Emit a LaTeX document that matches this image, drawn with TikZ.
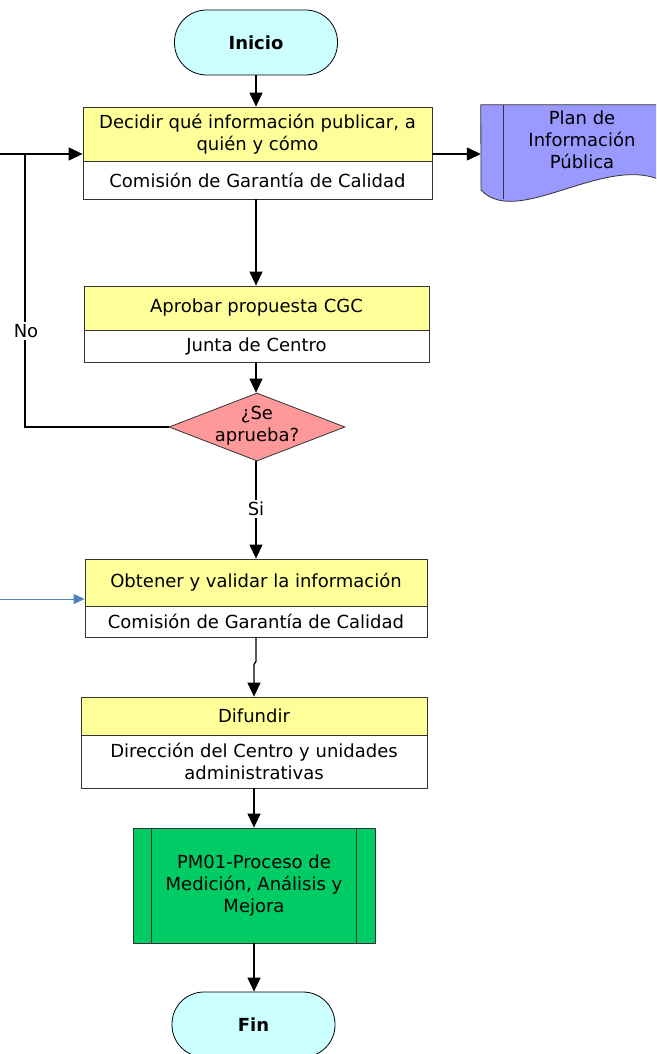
\documentclass[tikz,border=0pt]{standalone}
\usepackage{fontspec}
\setmainfont{DejaVu Sans}
\usetikzlibrary{arrows.meta,shapes.geometric}
\definecolor{termfill}{HTML}{CCFFFF}
\definecolor{taskfill}{HTML}{FFFF99}
\definecolor{docfill}{HTML}{9999FF}
\definecolor{decfill}{HTML}{FF9999}
\definecolor{procfill}{HTML}{00CC66}
\definecolor{inflow}{HTML}{4F81BD}
\definecolor{edge}{HTML}{333333}

\begin{document}
\begin{tikzpicture}[x=1pt,y=-1pt,
  every node/.style={font=\fontsize{18}{22}\selectfont, align=center, inner sep=0pt},
  term/.style={draw=black, line width=0.8pt, fill=termfill, rounded corners=32pt,
    minimum width=163pt, minimum height=65pt, font=\fontsize{18}{22}\selectfont\bfseries},
  tasktop/.style={draw=edge, line width=0.8pt, fill=taskfill},
  taskbot/.style={draw=edge, line width=0.8pt, fill=white},
  decision/.style={diamond, draw=edge, line width=0.8pt, fill=decfill,
    minimum width=176pt, minimum height=68pt},
  subproc/.style={draw=edge, line width=0.8pt, fill=procfill,
    minimum width=242pt, minimum height=115pt},
  flow/.style={draw=black, line width=1.3pt, -{Triangle[length=14pt,width=13pt]}},
  plain/.style={draw=black, line width=1.3pt},
  blueflow/.style={draw=inflow, line width=1pt, -{Triangle[length=11pt,width=10pt]}},
  tag/.style={fill=white, inner sep=2pt}
]
\useasboundingbox (0,0) rectangle (656,1054);

% start / end
\node[term] (ini) at (256,42.5) {Inicio};
\node[term] (fin) at (253.5,1024.5) {Fin};

% task 1
\node[tasktop, minimum width=349pt, minimum height=54pt] (t1) at (257.5,134)
  {Decidir qué información publicar, a\\quién y cómo};
\node[taskbot, minimum width=349pt, minimum height=38pt] (b1) at (257.5,180)
  {Comisión de Garantía de Calidad};

% task 2
\node[tasktop, minimum width=345pt, minimum height=44pt] (t2) at (256.5,308)
  {Aprobar propuesta CGC};
\node[taskbot, minimum width=345pt, minimum height=32pt] (b2) at (256.5,346)
  {Junta de Centro};

% decision
\node[decision] (dec) at (257,427) {};
\node (declab) at (257,426) {¿Se\\aprueba?};

% task 3
\node[tasktop, minimum width=342pt, minimum height=47pt] (t3) at (256,582.5)
  {Obtener y validar la información};
\node[taskbot, minimum width=342pt, minimum height=31pt] (b3) at (256,621.5)
  {Comisión de Garantía de Calidad};

% task 4
\node[tasktop, minimum width=346pt, minimum height=38pt] (t4) at (254,716)
  {Difundir};
\node[taskbot, minimum width=346pt, minimum height=53pt] (b4) at (254,761.5)
  {Dirección del Centro y unidades\\administrativas};

% linked process
\node[subproc] (p5) at (254,885.5)
  {PM01-Proceso de\\Medición, Análisis y\\Mejora};
\draw[edge, line width=0.8pt] ([xshift=19pt]p5.north west) -- ([xshift=19pt]p5.south west);
\draw[edge, line width=0.8pt] ([xshift=-19pt]p5.north east) -- ([xshift=-19pt]p5.south east);

% output document
\node[minimum width=195pt, minimum height=98pt] (doc) at (578.5,154) {};
\begin{scope}
  \clip (0,0) rectangle (656,1054);
  \filldraw[draw=edge, line width=0.8pt, fill=docfill]
    (doc.north west) -- (doc.north east) -- (676,190)
    .. controls (620,140) and (520,232) .. (481,190) -- cycle;
  \draw[edge, line width=0.8pt] (503,105) -- (503,199);
\end{scope}
\node (doclabel) at (582,140) {Plan de\\Información\\Pública};

% connectors
\coordinate (lin) at (0,154);
\coordinate (nojoin) at (25,154);
\coordinate (vin) at (0,599);

\draw[flow] (ini.south) -- (ini.south |- t1.north);
\draw[flow] (t1.east |- doc.west) -- (doc.west);
\draw[flow] (lin) -- (lin -| t1.west);
\draw[plain] (dec.west) -| (nojoin);
\node[tag] (nolab) at (26,331) {No};
\draw[flow] (b1.south -| ini.south) -- (ini.south |- t2.north);
\draw[flow] (b2.south -| ini.south) -- (ini.south |- dec.north);
\draw[flow] (dec.south -| ini.south) -- (ini.south |- t3.north);
\node[tag] (silab) at (256,509) {Si};
\draw[blueflow] (vin) -- (vin -| t3.west);
\draw[flow] (b3.south) -- ++(0,24) -- ++(-2,3) -- (t4.north);
\draw[flow] (b4.south) -- (p5.north);
\draw[flow] (p5.south) -- (p5.south |- fin.north);
\end{tikzpicture}
\end{document}
